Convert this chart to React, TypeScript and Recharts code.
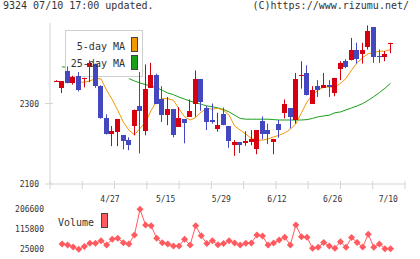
import React from "react";
import { Bar, ComposedChart, Line, LineChart, XAxis, YAxis } from "recharts";

// daily OHLC, index 0 = oldest session
const opens = [
  2357, 2339, 2380, 2350, 2368, 2360, 2391, 2399, 2343, 2265,
  2223, 2230, 2221, 2209, 2244, 2293, 2232, 2339, 2370, 2312,
  2271, 2286, 2242, 2261, 2267, 2300, 2360, 2288, 2259, 2236,
  2273, 2244, 2197, 2204, 2202, 2205, 2187, 2256, 2234, 2205,
  2249, 2277, 2288, 2258, 2369, 2376, 2300, 2343, 2339, 2345,
  2326, 2385, 2405, 2407, 2432, 2424, 2440, 2490, 2418, 2415,
  2447,
];
const highs = [
  2358, 2356, 2392, 2369, 2378, 2364, 2407, 2399, 2345, 2273,
  2244, 2261, 2221, 2216, 2285, 2378, 2397, 2401, 2374, 2343,
  2316, 2286, 2291, 2261, 2310, 2382, 2360, 2294, 2300, 2277,
  2290, 2244, 2209, 2204, 2231, 2234, 2234, 2268, 2250, 2212,
  2259, 2310, 2288, 2376, 2405, 2395, 2343, 2358, 2376, 2358,
  2364, 2405, 2410, 2463, 2451, 2451, 2494, 2490, 2434, 2430,
  2451,
];
const lows = [
  2356, 2326, 2350, 2347, 2330, 2340, 2353, 2339, 2262, 2223,
  2194, 2194, 2186, 2184, 2221, 2176, 2221, 2339, 2300, 2254,
  2246, 2216, 2242, 2201, 2267, 2267, 2282, 2234, 2250, 2230,
  2246, 2190, 2170, 2177, 2195, 2196, 2174, 2211, 2199, 2174,
  2215, 2263, 2238, 2250, 2337, 2320, 2300, 2316, 2339, 2316,
  2318, 2358, 2388, 2407, 2399, 2399, 2434, 2401, 2401, 2405,
  2425,
];
const closes = [
  2357, 2356, 2350, 2367, 2333, 2364, 2401, 2344, 2264, 2223,
  2232, 2261, 2207, 2198, 2285, 2281, 2335, 2370, 2300, 2271,
  2286, 2221, 2263, 2252, 2281, 2360, 2304, 2254, 2254, 2246,
  2246, 2207, 2204, 2197, 2207, 2211, 2234, 2224, 2224, 2211,
  2234, 2300, 2267, 2362, 2371, 2320, 2333, 2333, 2345, 2341,
  2364, 2401, 2391, 2432, 2410, 2434, 2479, 2415, 2416, 2422,
  2451,
];
const ma5 = [
  null, null, null, null, 2353, 2353, 2356, 2362, 2361, 2333,
  2310, 2283, 2254, 2234, 2222, 2238, 2254, 2283, 2306, 2312,
  2312, 2308, 2287, 2267, 2259, 2265, 2279, 2288, 2286, 2288,
  2283, 2271, 2244, 2234, 2224, 2213, 2209, 2209, 2212, 2217,
  2221, 2227, 2236, 2250, 2277, 2304, 2322, 2333, 2341, 2341,
  2341, 2350, 2362, 2383, 2401, 2414, 2424, 2426, 2430, 2430,
  2434,
];
const ma25 = [
  null, 2391, 2390, null, null, null, null, null, null, null,
  null, null, null, 2362, 2356, 2351, 2347, 2343, 2339, 2333,
  2326, 2322, 2316, 2311, 2306, 2302, 2298, 2294, 2292, 2289,
  2285, 2279, 2271, 2263, 2261, 2261, 2261, 2261, 2261, 2260,
  2259, 2259, 2259, 2259, 2259, 2260, 2263, 2267, 2269, 2271,
  2277, 2279, 2284, 2289, 2294, 2300, 2308, 2317, 2327, 2338,
  2350,
];
const volumes = [
  null, 49000, 44500, 35500, 25000, 37700, 52200, 52200, 64000, 44500,
  70400, 75000, 55000, 49000, 90000, 206600, 135300, 131700, 75000, 55000,
  49000, 40000, 40000, 70900, 44500, 131700, 86300, 50900, 63600, 45900,
  50900, 63600, 53600, 44500, 52200, 53600, 90000, 85400, 44500, 53600,
  67200, 79500, 44500, 135300, 81800, 79500, 29500, 34000, 55900, 40000,
  29500, 59500, 34000, 78600, 55900, 35400, 93500, 34000, 49000, 27700,
  27700,
];

const dateLabels = ["4/27", "5/15", "5/29", "6/12", "6/26", "7/10"];
const dateLabelPos = [9.6, 19.6, 29.6, 39.6, 49.6, 59.6];
const gridTicks = [
  -1.168, 4.629, 10.426, 16.223, 22.02, 27.817, 33.614, 39.411, 45.208,
  51.005, 56.802, 62.6,
];
const priceTicks = [2100, 2300];
const volumeTicks = [25000, 115800, 206600];

const X_DOMAIN: [number, number] = [-1.168, 62.6];
const PRICE_DOMAIN: [number, number] = [2100, 2500];
const VOL_DOMAIN: [number, number] = [25000, 206600];

const RED = "#d7000f";
const BLUE = "#4348c0";
const ORANGE = "#f39800";
const GREEN = "#19a019";
const VOL = "#ff5a5f";
const AXIS = "#d4d4d4";
const INK = "#333";
const MONO = "'DejaVu Sans Mono', monospace";

const rows = opens.map((open, i) => ({
  i,
  open,
  high: highs[i],
  low: lows[i],
  close: closes[i],
  ma5: ma5[i],
  ma25: ma25[i],
  volume: volumes[i],
}));

type Row = (typeof rows)[number];

const Candle = (props: any) => {
  const { x, y, width, height, payload } = props;
  const { open, close, high, low } = payload as Row;
  const color = close >= open ? RED : BLUE;
  const k = high === low ? 0 : height / (high - low);
  const top = y + (high - Math.max(open, close)) * k;
  const bodyH = Math.max(1, Math.abs(close - open) * k);
  const cx = Math.floor(x + width / 2) + 0.5;
  return (
    <g>
      {height > 0 && (
        <line x1={cx} x2={cx} y1={y} y2={y + height} stroke={color} strokeWidth={1} />
      )}
      <rect x={x} y={top} width={width} height={bodyH} fill={color} shapeRendering="crispEdges" />
    </g>
  );
};

const PriceTick = ({ x, y, payload }: any) => (
  <g>
    <line x1={x + 6} x2={x + 14} y1={y} y2={y} stroke={AXIS} />
    <text x={x} y={y} dy={3} textAnchor="end" fontFamily={MONO} fontSize={8} fill={INK}>
      {payload.value}
    </text>
  </g>
);

const DateTick = ({ x, y, payload }: any) => {
  const idx = dateLabelPos.indexOf(payload.value);
  if (idx >= 0) {
    return (
      <text x={x} y={y + 18} textAnchor="middle" fontFamily={MONO} fontSize={8} fill={INK}>
        {dateLabels[idx]}
      </text>
    );
  }
  return <line x1={x} x2={x} y1={y - 3} y2={y + 5} stroke={AXIS} />;
};

const VolumeTick = ({ x, y, payload }: any) => (
  <text x={x} y={y} dy={3} textAnchor="end" fontFamily={MONO} fontSize={8} fill={INK}>
    {payload.value}
  </text>
);

const Diamond = (props: any) => {
  const { cx, cy, index } = props;
  if (cx == null || cy == null) return <g key={`v${index}`} />;
  const r = 3.5;
  return (
    <polygon
      key={`v${index}`}
      points={`${cx},${cy - r} ${cx + r},${cy} ${cx},${cy + r} ${cx - r},${cy}`}
      fill={VOL}
    />
  );
};

const layer: React.CSSProperties = { position: "absolute", left: 0, top: 0 };

export default function App() {
  return (
    <div
      style={{
        position: "absolute",
        left: 0,
        top: 0,
        width: 420,
        height: 259,
        background: "#fff",
        overflow: "hidden",
      }}
    >
      {/* axes and moving averages */}
      <div style={layer}>
        <ComposedChart width={420} height={259} data={rows} margin={{ top: 23, right: 15, bottom: 0, left: 0 }}>
          <XAxis
            type="number"
            dataKey="i"
            domain={X_DOMAIN}
            ticks={[...gridTicks, ...dateLabelPos]}
            interval={0}
            height={75}
            stroke={AXIS}
            tickLine={false}
            tickSize={0}
            tickMargin={0}
            tick={<DateTick />}
          />
          <YAxis
            type="number"
            domain={PRICE_DOMAIN}
            ticks={priceTicks}
            interval={0}
            width={50}
            stroke={AXIS}
            tickLine={false}
            tickSize={5}
            tickMargin={6}
            tick={<PriceTick />}
          />
          <Line dataKey="ma25" stroke={GREEN} strokeWidth={1} dot={false} isAnimationActive={false} />
          <Line dataKey="ma5" stroke={ORANGE} strokeWidth={1} dot={false} isAnimationActive={false} />
        </ComposedChart>
      </div>

      {/* legend frame sits above the averages but below the candles */}
      <svg width={420} height={259} style={layer}>
        <rect x={65.5} y={30.5} width={77} height={46} fill="#fff" stroke="#cfcfcf" />
      </svg>

      {/* candlesticks */}
      <div style={layer}>
        <ComposedChart width={420} height={259} data={rows} margin={{ top: 23, right: 15, bottom: 75, left: 50 }}>
          <XAxis type="number" dataKey="i" domain={X_DOMAIN} hide />
          <YAxis type="number" domain={PRICE_DOMAIN} hide />
          <Bar
            dataKey={(d: Row) => [d.low, d.high]}
            barSize={5}
            shape={<Candle />}
            isAnimationActive={false}
          />
        </ComposedChart>
      </div>

      <svg width={420} height={259} style={layer}>
        <text x={125} y={49.5} textAnchor="end" fontFamily={MONO} fontSize={10} fill={INK}>
          5-day MA
        </text>
        <text x={125} y={67} textAnchor="end" fontFamily={MONO} fontSize={10} fill={INK}>
          25-day MA
        </text>
        <rect x={131.5} y={37.5} width={6} height={14} fill={ORANGE} stroke="#444" />
        <rect x={131.5} y={55.5} width={6} height={14} fill={GREEN} stroke="#444" />
        <text x={3} y={9} fontFamily={MONO} fontSize={10} fill={INK}>
          9324 07/10 17:00 updated.
        </text>
        <text x={409} y={9} textAnchor="end" fontFamily={MONO} fontSize={10} fill={INK}>
          (C)https://www.rizumu.net/
        </text>
        <text x={58} y={226.3} fontFamily={MONO} fontSize={10} fill={INK}>
          Volume
        </text>
        <rect x={101.5} y={213.5} width={6} height={14} fill={VOL} stroke="#444" />
      </svg>

      {/* volume panel */}
      <div style={{ ...layer, top: 200 }}>
        <LineChart width={420} height={59} data={rows} margin={{ top: 9.3, right: 15, bottom: 9.7, left: 0 }}>
          <XAxis type="number" dataKey="i" domain={X_DOMAIN} hide />
          <YAxis
            type="number"
            domain={VOL_DOMAIN}
            ticks={volumeTicks}
            interval={0}
            width={50}
            axisLine={false}
            tickLine={false}
            tickSize={0}
            tickMargin={6}
            tick={<VolumeTick />}
          />
          <Line
            dataKey="volume"
            stroke={VOL}
            strokeWidth={1}
            dot={Diamond}
            isAnimationActive={false}
          />
        </LineChart>
      </div>
    </div>
  );
}
